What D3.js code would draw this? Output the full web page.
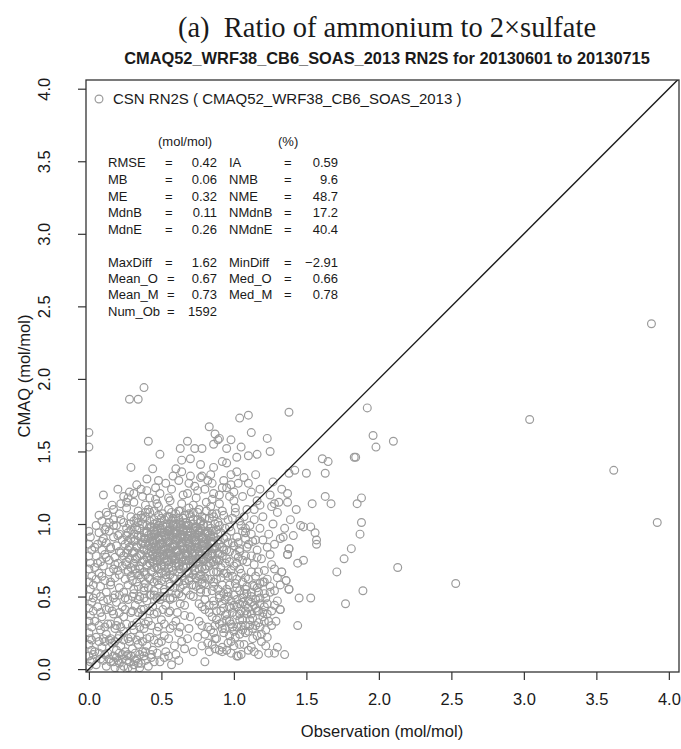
<!DOCTYPE html>
<html>
<head>
<meta charset="utf-8">
<script src="https://cdn.jsdelivr.net/npm/d3@7"></script>
<style>
  html, body { margin: 0; padding: 0; background: #fff; }
  svg { display: block; }
</style>
</head>
<body>
<div id="chart"></div>
<script>
var ticks = [0, 0.5, 1, 1.5, 2, 2.5, 3, 3.5, 4];

// points stacked on the y axis (obs ~ 0)
var edgeColumn = [[0.00,0.02],[0.01,0.05],[0.00,0.09],[0.02,0.13],[0.00,0.17],[0.01,0.21],[0.00,0.25],[0.02,0.29],
  [0.00,0.33],[0.01,0.37],[0.00,0.42],[0.02,0.46],[0.00,0.50],[0.01,0.55],[0.00,0.60],[0.02,0.64],[0.00,0.69],
  [0.01,0.73],[0.00,0.78],[0.02,0.82],[0.00,0.86],[0.01,0.91],[0.00,0.95],[0.00,1.53],[0.00,1.63]];

// low obs, low model
var lowerLeft = [[0.05,0.03],[0.08,0.07],[0.12,0.02],[0.15,0.05],[0.18,0.01],[0.19,0.08],[0.21,0.04],[0.23,0.10],
  [0.24,0.02],[0.26,0.06],[0.27,0.01],[0.29,0.09],[0.31,0.03],[0.33,0.07],[0.35,0.01],[0.36,0.04],[0.38,0.09],
  [0.45,0.05],[0.52,0.08],[0.57,0.03],[0.62,0.06],[0.41,0.02],[0.22,0.00],[0.30,0.00],
  [0.04,0.12],[0.09,0.15],[0.13,0.11],[0.16,0.18],[0.19,0.13],[0.22,0.16],[0.25,0.12],[0.28,0.19],[0.30,0.14],
  [0.34,0.17],[0.37,0.12],[0.40,0.16],[0.44,0.13],[0.48,0.18],[0.53,0.12],[0.59,0.16],[0.66,0.14],[0.11,0.19],[0.27,0.10],
  [0.05,0.22],[0.08,0.27],[0.12,0.24],[0.15,0.21],[0.18,0.28],[0.21,0.23],[0.24,0.26],[0.27,0.21],[0.31,0.27],
  [0.35,0.23],[0.38,0.28],[0.42,0.22],[0.47,0.26],[0.52,0.23],[0.56,0.28],[0.62,0.25],[0.68,0.21],
  [0.04,0.33],[0.09,0.36],[0.13,0.31],[0.17,0.38],[0.20,0.33],[0.24,0.36],[0.29,0.39],[0.33,0.32],[0.37,0.37],
  [0.41,0.33],[0.45,0.38],[0.50,0.34],[0.55,0.39],[0.60,0.33],[0.66,0.37],
  [0.06,0.43],[0.10,0.47],[0.14,0.42],[0.19,0.46],[0.23,0.43],[0.27,0.48],[0.32,0.44],[0.36,0.41],[0.40,0.47],
  [0.44,0.43],[0.49,0.48],[0.53,0.44],[0.58,0.49],[0.63,0.45]];

var lowerLeftFill = [[0.02,0.06],[0.10,0.06],[0.14,0.07],[0.17,0.05],[0.20,0.06],[0.23,0.07],[0.28,0.05],[0.32,0.06],
  [0.34,0.04],[0.39,0.06],[0.43,0.08],[0.49,0.05],
  [0.03,0.10],[0.07,0.11],[0.11,0.10],[0.17,0.09],[0.21,0.11],[0.26,0.09],[0.32,0.11],[0.35,0.10],[0.39,0.12],
  [0.43,0.10],[0.47,0.11],[0.55,0.09],[0.60,0.10],
  [0.02,0.20],[0.07,0.19],[0.10,0.21],[0.14,0.20],[0.18,0.19],[0.20,0.21],[0.24,0.20],[0.29,0.22],[0.33,0.20],
  [0.37,0.19],[0.40,0.21],[0.45,0.20],[0.50,0.19],[0.55,0.21],[0.64,0.19],
  [0.07,0.30],[0.11,0.29],[0.15,0.31],[0.19,0.30],[0.22,0.29],[0.26,0.31],[0.30,0.30],[0.35,0.29],[0.39,0.31],
  [0.43,0.30],[0.48,0.29],[0.52,0.31],[0.58,0.30],[0.63,0.29],
  [0.03,0.40],[0.08,0.39],[0.12,0.41],[0.16,0.40],[0.21,0.39],[0.25,0.41],[0.30,0.40],[0.34,0.39],[0.38,0.41],
  [0.42,0.40],[0.47,0.39],[0.51,0.41],[0.56,0.40],[0.61,0.39],
  [0.03,0.49],[0.08,0.50],[0.13,0.48],[0.17,0.49],[0.21,0.51],[0.25,0.49],[0.30,0.50],[0.34,0.48],[0.38,0.49],
  [0.43,0.51],[0.47,0.49],[0.51,0.50],[0.56,0.48]];

// under-predicted lobe below the 1:1 line
var lowerRight = [[0.72,0.12],[0.75,0.22],[0.78,0.30],[0.80,0.05],[0.80,0.41],[0.82,0.18],[0.84,0.27],[0.85,0.36],
  [0.86,0.47],[0.87,0.14],[0.88,0.21],[0.89,0.55],[0.90,0.31],[0.91,0.40],[0.92,0.12],[0.93,0.25],[0.94,0.48],
  [0.95,0.34],[0.96,0.18],[0.97,0.58],[0.98,0.42],[0.99,0.29],[1.00,0.51],[1.01,0.22],[1.02,0.37],[1.03,0.09],
  [1.04,0.45],[1.05,0.30],[1.06,0.60],[1.07,0.17],[1.08,0.40],[1.09,0.52],[1.10,0.26],[1.11,0.34],[1.12,0.46],
  [1.13,0.21],[1.14,0.57],[1.15,0.30],[1.16,0.40],[1.17,0.10],[1.18,0.49],[1.19,0.19],[1.20,0.36],[1.21,0.60],
  [1.22,0.27],[1.23,0.45],[1.24,0.33],[1.25,0.53],[1.26,0.72],[1.28,0.11],[1.30,0.15],[1.32,0.41],[1.33,0.67],
  [1.35,0.10],[1.36,0.61],[1.37,0.79],[1.38,0.55],[0.95,0.13],[0.90,0.13],[0.87,0.21],[0.98,0.19],[1.02,0.43],
  [1.06,0.34],[1.09,0.38],[1.13,0.35],[1.17,0.40],[1.17,0.67],[1.20,0.60],[1.21,0.52],[1.23,0.38],[1.23,0.22],
  [1.21,0.33],[1.05,0.10],[1.02,0.09],[0.83,0.44],[0.88,0.62],[0.93,0.66],[0.99,0.64],[1.05,0.66],[1.10,0.62],
  [1.12,0.53],[1.15,0.89],[1.20,0.89],[1.23,0.84],[0.62,0.52],[0.66,0.44],[0.70,0.36],[0.72,0.50],[0.74,0.57],
  [0.76,0.45],[0.78,0.62],[0.81,0.53],[0.69,0.28],[0.65,0.58],[1.44,0.30],[1.32,0.41],[1.45,0.49],[1.53,0.49],
  [1.38,0.55],[1.36,0.61],[1.33,0.67],[1.44,0.73],[1.48,0.75],[1.37,0.79],[1.38,0.83],[1.32,0.90],[1.34,0.91]];

var lowerRightFill = [[0.83,0.12],[0.98,0.11],[1.10,0.13],[1.14,0.12],[1.24,0.11],
  [0.78,0.16],[0.85,0.17],[0.92,0.15],[1.00,0.16],[1.04,0.17],[1.12,0.15],[1.22,0.16],
  [0.80,0.24],[0.86,0.25],[0.97,0.23],[1.04,0.24],[1.08,0.25],[1.16,0.23],[1.19,0.24],
  [0.82,0.29],[0.87,0.30],[0.94,0.28],[1.02,0.29],[1.08,0.30],[1.13,0.28],[1.18,0.29],[1.26,0.30],
  [0.76,0.33],[0.88,0.34],[0.92,0.32],[0.97,0.33],[1.04,0.34],[1.17,0.32],[1.29,0.33],
  [0.83,0.39],[0.88,0.40],[0.95,0.38],[0.99,0.39],[1.05,0.40],[1.12,0.38],[1.20,0.39],[1.26,0.40],
  [0.78,0.43],[0.86,0.44],[0.93,0.42],[0.97,0.43],[1.08,0.44],[1.15,0.42],[1.21,0.43],[1.28,0.44],
  [0.80,0.48],[0.90,0.49],[0.98,0.47],[1.02,0.48],[1.06,0.49],[1.10,0.47],[1.15,0.48],[1.22,0.49],[1.30,0.47],
  [0.77,0.53],[0.85,0.54],[0.93,0.52],[0.96,0.53],[1.04,0.54],[1.07,0.52],[1.17,0.53],[1.28,0.54],
  [0.72,0.58],[0.80,0.59],[0.86,0.57],[0.92,0.58],[1.01,0.59],[1.09,0.57],[1.13,0.58],[1.18,0.59],[1.25,0.57],[1.32,0.58],
  [0.70,0.63],[0.76,0.64],[0.84,0.62],[0.91,0.63],[0.96,0.64],[1.02,0.62],[1.08,0.63],[1.15,0.64],[1.23,0.62],[1.30,0.63],
  [0.73,0.68],[0.80,0.69],[0.89,0.67],[0.98,0.68],[1.04,0.69],[1.12,0.67],[1.21,0.68],[1.28,0.69],
  [1.02,0.73],[1.08,0.78],[1.14,0.72],[1.19,0.76],[1.25,0.79],[1.09,0.84],[1.16,0.82],[1.28,0.86],[1.12,0.93],
  [1.18,0.97],[1.24,0.93],[1.27,1.00],[1.14,1.03],[1.20,1.05],[1.30,1.08],[1.08,0.97],[1.26,1.12],[1.35,0.97],
  [1.41,0.92],[1.39,1.03],
  [0.92,0.45],[0.96,0.50],[1.00,0.44],[1.04,0.38],[0.94,0.37],[0.98,0.31],[1.06,0.46],[1.10,0.42],[1.14,0.44],
  [1.08,0.55],[1.02,0.56],[0.95,0.55],[0.90,0.51],[1.12,0.50],[1.18,0.45],[1.16,0.56],[1.06,0.27],[1.00,0.26],
  [1.11,0.30],[0.92,0.28]];

// dense core around obs 0.4-1.0, model 0.7-1.1
var core = [[0.05,0.52],[0.12,0.53],[0.18,0.51],[0.24,0.53],[0.31,0.52],[0.38,0.54],[0.45,0.51],[0.52,0.53],[0.60,0.52],
  [0.08,0.57],[0.15,0.58],[0.21,0.56],[0.27,0.58],[0.34,0.57],[0.41,0.56],[0.48,0.58],[0.56,0.57],[0.63,0.56],[0.71,0.58],
  [0.05,0.62],[0.11,0.61],[0.18,0.63],[0.25,0.62],[0.30,0.61],[0.36,0.63],[0.42,0.62],[0.47,0.61],[0.53,0.63],
  [0.59,0.62],[0.66,0.61],[0.74,0.63],[0.82,0.62],
  [0.07,0.66],[0.14,0.67],[0.21,0.65],[0.27,0.67],[0.33,0.66],[0.39,0.65],[0.44,0.67],[0.50,0.66],[0.56,0.65],
  [0.62,0.67],[0.69,0.66],[0.77,0.65],[0.86,0.67],[0.95,0.66],
  [0.04,0.70],[0.10,0.71],[0.17,0.69],[0.23,0.71],[0.29,0.70],[0.35,0.69],[0.40,0.71],[0.45,0.70],[0.50,0.72],
  [0.55,0.69],[0.60,0.71],[0.65,0.70],[0.70,0.72],[0.76,0.69],[0.83,0.71],[0.91,0.70],[1.00,0.71],
  [0.08,0.74],[0.14,0.75],[0.20,0.73],[0.26,0.74],[0.32,0.76],[0.37,0.74],[0.42,0.73],[0.47,0.75],[0.52,0.74],
  [0.57,0.76],[0.62,0.73],[0.67,0.75],[0.72,0.74],[0.78,0.76],[0.84,0.73],[0.90,0.75],[0.97,0.74],[1.06,0.75],
  [0.05,0.78],[0.11,0.79],[0.18,0.77],[0.24,0.78],[0.30,0.80],[0.35,0.78],[0.40,0.77],[0.44,0.79],[0.49,0.78],
  [0.54,0.80],[0.58,0.77],[0.63,0.79],[0.68,0.78],[0.73,0.80],[0.79,0.77],[0.85,0.79],[0.92,0.78],[1.01,0.79],[1.12,0.78],
  [0.09,0.82],[0.15,0.83],[0.21,0.81],[0.27,0.82],[0.33,0.84],[0.38,0.82],[0.43,0.81],[0.47,0.83],[0.52,0.82],
  [0.56,0.84],[0.61,0.81],[0.66,0.83],[0.70,0.82],[0.75,0.84],[0.81,0.81],[0.87,0.83],[0.95,0.82],[1.04,0.83],
  [0.06,0.86],[0.12,0.87],[0.19,0.85],[0.25,0.86],[0.31,0.88],[0.36,0.86],[0.41,0.85],[0.45,0.87],[0.50,0.86],
  [0.55,0.88],[0.59,0.85],[0.64,0.87],[0.69,0.86],[0.73,0.88],[0.78,0.85],[0.84,0.87],[0.90,0.86],[0.99,0.87],[1.10,0.86],
  [0.10,0.90],[0.17,0.91],[0.23,0.89],[0.29,0.90],[0.34,0.92],[0.39,0.90],[0.44,0.89],[0.48,0.91],[0.53,0.90],
  [0.57,0.92],[0.62,0.89],[0.66,0.91],[0.71,0.90],[0.76,0.92],[0.81,0.89],[0.86,0.91],[0.93,0.90],[1.02,0.91],
  [0.07,0.94],[0.14,0.95],[0.21,0.93],[0.27,0.94],[0.33,0.96],[0.38,0.94],[0.43,0.93],[0.47,0.95],[0.52,0.94],
  [0.56,0.96],[0.61,0.93],[0.65,0.95],[0.70,0.94],[0.75,0.96],[0.80,0.93],[0.85,0.95],[0.91,0.94],[0.98,0.95],[1.08,0.94],
  [0.12,0.98],[0.19,0.99],[0.26,0.97],[0.32,0.98],[0.37,1.00],[0.42,0.98],[0.47,0.97],[0.51,0.99],[0.56,0.98],
  [0.60,1.00],[0.65,0.97],[0.69,0.99],[0.74,0.98],[0.79,1.00],[0.84,0.97],[0.90,0.99],[0.97,0.98],[1.05,0.99],
  [0.09,1.02],[0.17,1.03],[0.24,1.01],[0.31,1.02],[0.37,1.04],[0.42,1.02],[0.47,1.01],[0.52,1.03],[0.57,1.02],
  [0.62,1.04],[0.67,1.01],[0.72,1.03],[0.77,1.02],[0.83,1.04],[0.89,1.01],[0.96,1.03],[1.04,1.02],
  [0.13,1.06],[0.21,1.07],[0.29,1.05],[0.36,1.06],[0.42,1.08],[0.48,1.06],[0.54,1.05],[0.60,1.07],[0.66,1.06],
  [0.72,1.08],[0.78,1.05],[0.85,1.07],[0.93,1.06],[1.01,1.08],
  [0.17,1.10],[0.26,1.11],[0.34,1.09],[0.41,1.10],[0.48,1.12],[0.55,1.10],[0.62,1.09],[0.69,1.11],[0.76,1.10],
  [0.84,1.12],[0.92,1.09],[1.01,1.11],[1.09,1.10],
  [0.22,1.14],[0.31,1.15],[0.39,1.13],[0.47,1.14],[0.56,1.16],[0.64,1.14],[0.72,1.13],[0.81,1.15],[0.90,1.14],[1.00,1.16],
  [0.27,1.18],[0.37,1.19],[0.46,1.17],[0.55,1.18],[0.65,1.20],[0.74,1.18],[0.85,1.17],[0.97,1.19]];

// extra overlap in the darkest part of the core
var coreCentre = [[0.46,0.77],[0.52,0.76],[0.58,0.78],[0.64,0.77],[0.70,0.76],[0.76,0.78],[0.82,0.77],[0.88,0.76],
  [0.49,0.81],[0.55,0.80],[0.61,0.82],[0.67,0.80],[0.73,0.81],[0.79,0.83],[0.85,0.80],
  [0.46,0.85],[0.52,0.84],[0.58,0.86],[0.64,0.85],[0.70,0.84],[0.76,0.86],[0.82,0.85],[0.88,0.84],
  [0.49,0.89],[0.55,0.88],[0.61,0.90],[0.67,0.88],[0.73,0.89],[0.79,0.91],[0.85,0.88],
  [0.46,0.93],[0.52,0.92],[0.58,0.94],[0.64,0.93],[0.70,0.92],[0.76,0.94],[0.82,0.93],
  [0.49,0.97],[0.55,0.96],[0.61,0.98],[0.67,0.96],[0.73,0.97],[0.79,0.99],[0.63,1.00],[0.70,1.02],[0.58,1.04],
  [0.47,0.70],[0.52,0.71],[0.57,0.70],[0.62,0.71],[0.67,0.70],[0.72,0.71],[0.78,0.70],
  [0.44,0.74],[0.49,0.75],[0.54,0.74],[0.59,0.75],[0.64,0.74],[0.69,0.75],[0.74,0.74],[0.79,0.75],[0.86,0.74],
  [0.42,0.78],[0.47,0.79],[0.52,0.78],[0.57,0.79],[0.62,0.78],[0.67,0.79],[0.72,0.78],[0.78,0.79],[0.84,0.78],[0.90,0.79],
  [0.40,0.82],[0.45,0.83],[0.50,0.82],[0.55,0.83],[0.60,0.82],[0.65,0.83],[0.70,0.82],[0.75,0.83],[0.80,0.82],
  [0.86,0.83],[0.93,0.82],
  [0.39,0.86],[0.44,0.87],[0.49,0.86],[0.54,0.87],[0.59,0.86],[0.64,0.87],[0.69,0.86],[0.74,0.87],[0.80,0.86],[0.86,0.87],
  [0.38,0.90],[0.43,0.91],[0.48,0.90],[0.53,0.91],[0.58,0.90],[0.63,0.91],[0.68,0.90],[0.73,0.91],[0.78,0.90],[0.84,0.91],
  [0.40,0.94],[0.45,0.95],[0.50,0.94],[0.55,0.95],[0.60,0.94],[0.65,0.95],[0.70,0.94],[0.76,0.95],[0.82,0.94],
  [0.43,0.98],[0.48,0.99],[0.53,0.98],[0.58,0.99],[0.63,0.98],[0.68,0.99],[0.74,0.98]];

var coreFill = [[0.27,0.68],[0.32,0.69],[0.38,0.67],[0.43,0.68],[0.48,0.69],[0.53,0.67],[0.58,0.68],[0.63,0.69],
  [0.68,0.67],[0.73,0.68],[0.80,0.69],[0.88,0.67],
  [0.26,0.72],[0.31,0.73],[0.35,0.71],[0.40,0.72],[0.45,0.73],[0.50,0.71],[0.55,0.72],[0.60,0.73],[0.65,0.71],
  [0.70,0.72],[0.75,0.73],[0.81,0.71],[0.87,0.72],[0.94,0.73],
  [0.28,0.76],[0.33,0.77],[0.38,0.75],[0.43,0.76],[0.49,0.77],[0.54,0.75],[0.60,0.76],[0.65,0.77],[0.71,0.75],
  [0.76,0.76],[0.82,0.77],[0.88,0.75],[0.95,0.76],[1.03,0.77],
  [0.26,0.80],[0.31,0.81],[0.36,0.79],[0.41,0.80],[0.46,0.81],[0.51,0.79],[0.56,0.80],[0.61,0.81],[0.66,0.79],
  [0.71,0.80],[0.76,0.81],[0.82,0.79],[0.89,0.80],[0.97,0.81],
  [0.28,0.84],[0.33,0.85],[0.38,0.83],[0.43,0.84],[0.48,0.85],[0.53,0.83],[0.58,0.84],[0.63,0.85],[0.68,0.83],
  [0.73,0.84],[0.79,0.85],[0.85,0.83],[0.92,0.84],[1.00,0.85],
  [0.27,0.88],[0.32,0.89],[0.37,0.87],[0.42,0.88],[0.46,0.89],[0.51,0.87],[0.55,0.88],[0.60,0.89],[0.65,0.87],
  [0.69,0.88],[0.74,0.89],[0.79,0.87],[0.84,0.88],[0.89,0.89],[0.96,0.87],
  [0.26,0.92],[0.31,0.93],[0.36,0.91],[0.41,0.92],[0.45,0.93],[0.50,0.91],[0.55,0.92],[0.59,0.93],[0.64,0.91],
  [0.68,0.92],[0.73,0.93],[0.78,0.91],[0.83,0.92],[0.89,0.93],[0.95,0.91],
  [0.29,0.96],[0.35,0.97],[0.40,0.95],[0.45,0.96],[0.50,0.97],[0.54,0.95],[0.59,0.96],[0.63,0.97],[0.68,0.95],
  [0.72,0.96],[0.77,0.97],[0.82,0.95],[0.88,0.96],[0.94,0.97],
  [0.28,1.00],[0.34,1.01],[0.40,0.99],[0.45,1.00],[0.49,1.01],[0.54,0.99],[0.58,1.00],[0.63,1.01],[0.67,0.99],
  [0.72,1.00],[0.77,1.01],[0.82,0.99],[0.87,1.00],
  [0.33,1.04],[0.39,1.05],[0.45,1.03],[0.50,1.04],[0.55,1.05],[0.60,1.03],[0.65,1.04],[0.70,1.05],[0.75,1.03],
  [0.80,1.04],[0.86,1.05],
  [0.39,1.08],[0.45,1.09],[0.51,1.07],[0.57,1.08],[0.63,1.09],[0.69,1.07],[0.75,1.08],[0.81,1.09],[0.88,1.07],
  [0.35,0.50],[0.42,0.51],[0.49,0.50],[0.56,0.49],[0.64,0.50],[0.70,0.51],
  [0.31,0.55],[0.38,0.56],[0.45,0.54],[0.52,0.55],[0.59,0.56],[0.67,0.54],[0.77,0.55],
  [0.33,0.60],[0.39,0.59],[0.45,0.60],[0.50,0.61],[0.56,0.59],[0.62,0.60],[0.69,0.61],[0.78,0.59],[0.86,0.60],
  [0.29,0.64],[0.35,0.65],[0.41,0.63],[0.47,0.64],[0.53,0.65],[0.58,0.63],[0.64,0.64],[0.72,0.65],[0.80,0.63],
  [0.03,0.58],[0.09,0.64],[0.15,0.60],[0.20,0.68],[0.06,0.73],[0.12,0.77],[0.18,0.72],[0.22,0.80],[0.04,0.84],
  [0.09,0.88],[0.15,0.84],[0.20,0.92],[0.05,0.99],[0.11,0.96],[0.17,0.99],[0.22,1.03],[0.07,1.06],[0.14,1.01],
  [1.03,0.87],[1.08,0.90],[1.13,0.88],[1.06,0.95],[1.11,0.99],[0.99,1.04],[1.07,1.05],[1.14,1.10],[1.18,1.13],
  [1.04,0.81],[1.09,0.74],[1.16,0.77]];

// model > 1.2
var upper = [[0.38,1.94],[0.28,1.86],[0.34,1.86],[0.41,1.57],[0.49,1.48],[0.29,1.39],[0.44,1.38],[1.38,1.77],
  [1.92,1.80],[1.96,1.61],[1.98,1.53],[1.04,1.73],[1.10,1.75],[0.83,1.67],[0.87,1.62],[0.90,1.59],[0.89,1.58],
  [0.86,1.55],[0.68,1.57],[0.63,1.52],[0.73,1.52],[0.78,1.52],[0.95,1.52],[0.98,1.58],[1.05,1.53],[1.12,1.63],
  [1.23,1.59],[1.25,1.50],[1.16,1.48],[1.10,1.47],[1.02,1.46],[0.64,1.44],[0.70,1.45],[0.77,1.41],[0.92,1.43],
  [0.95,1.42],[0.86,1.39],[0.60,1.38],[0.64,1.36],[0.70,1.33],[0.78,1.33],[0.84,1.34],[1.15,1.34],[1.02,1.36],
  [0.98,1.34],[0.28,1.22],[0.31,1.21],[0.36,1.24],[0.26,1.15],[0.16,1.13],[0.53,1.28],[0.49,1.21],[0.42,1.18],
  [1.61,1.45],[1.65,1.43],[1.50,1.35],[1.42,1.37],[1.38,1.35],[1.63,1.35],[1.27,1.29],[1.18,1.24],[1.25,1.20],
  [1.33,1.24],[1.37,1.21],[1.31,1.15],[1.37,1.15],[1.54,1.14],[1.63,1.19],[1.67,1.14],[1.28,1.14],[1.16,1.16],
  [1.10,1.28],[1.03,1.28],[0.98,1.27],[0.95,1.25],[0.92,1.25],[0.85,1.28],[0.86,1.21],[0.75,1.23],[0.69,1.28],
  [0.77,1.32],[0.12,1.08],[0.20,1.24],[0.10,1.20],[1.83,1.46],[1.84,1.46],[1.88,1.18],[1.85,1.14],[1.43,1.10],
  [1.46,0.99],[1.48,0.98],[1.53,0.98],[1.56,0.94],[1.57,0.89],[1.57,0.86],[1.38,0.83],
  [0.33,1.27],[0.40,1.31],[0.46,1.25],[0.57,1.24],[0.62,1.30],[0.68,1.21],[0.73,1.26],[0.80,1.24],[0.82,1.30],
  [0.90,1.20],[1.00,1.22],[1.06,1.19],[1.12,1.22],[0.58,1.33],[0.48,1.30],[0.24,1.19],[0.40,1.23],[0.93,1.30],[1.07,1.32]];

// high-obs tail
var rightTail = [[2.10,1.57],[1.88,1.01],[1.87,0.93],[1.81,0.83],[1.76,0.76],[1.71,0.67],[1.89,0.54],[1.77,0.45],
  [2.13,0.70],[2.53,0.59],[3.04,1.72],[3.62,1.37],[3.88,2.38],[3.92,1.01]];

var series = [].concat(edgeColumn, lowerLeft, lowerLeftFill, lowerRight, lowerRightFill, core, coreCentre, coreFill, upper, rightTail);

var statsLeft = [["RMSE", "0.42"], ["MB", "0.06"], ["ME", "0.32"], ["MdnB", "0.11"], ["MdnE", "0.26"],
  ["MaxDiff", "1.62"], ["Mean_O", "0.67"], ["Mean_M", "0.73"], ["Num_Ob", "1592"]];
var statsRight = [["IA", "0.59"], ["NMB", "9.6"], ["NME", "48.7"], ["NMdnB", "17.2"], ["NMdnE", "40.4"],
  ["MinDiff", "\u22122.91"], ["Med_O", "0.66"], ["Med_M", "0.78"], null];
var rowY = [167, 184, 201, 217, 234, 267, 283, 299, 316];

var W = 681, H = 749;
var SANS = "'Liberation Sans', Arial, Helvetica, sans-serif";
var PT = "#9b9b9b", INK = "#1a1a1a";

var svg = d3.select("#chart").append("svg").attr("width", W).attr("height", H);
svg.append("rect").attr("width", W).attr("height", H).attr("fill", "#fff");

var x = d3.scaleLinear().domain([-0.02, 4.07]).range([86, 679]);
var y = d3.scaleLinear().domain([-0.02, 4.06]).range([672, 80]);

// titles
svg.append("text").attr("x", 387).attr("y", 37).attr("text-anchor", "middle")
  .attr("font-family", "'Liberation Serif', 'Times New Roman', serif").attr("font-size", 28.5).attr("fill", INK)
  .style("white-space", "pre").text("(a)  Ratio of ammonium to 2\u00d7sulfate");
svg.append("text").attr("x", 387).attr("y", 64).attr("text-anchor", "middle")
  .attr("font-family", SANS).attr("font-size", 16.4).attr("font-weight", "bold").attr("fill", INK)
  .text("CMAQ52_WRF38_CB6_SOAS_2013 RN2S for 20130601 to 20130715");

svg.append("clipPath").attr("id", "plotclip").append("rect")
  .attr("x", 86).attr("y", 80).attr("width", 593).attr("height", 592);

// points
svg.append("g").attr("clip-path", "url(#plotclip)").selectAll("circle").data(series).join("circle")
  .attr("cx", function (d) { return x(d[0]); }).attr("cy", function (d) { return y(d[1]); })
  .attr("r", 3.9).attr("fill", "none").attr("stroke", PT).attr("stroke-width", 1.2);

// 1:1 line
svg.append("line").attr("clip-path", "url(#plotclip)")
  .attr("x1", x(-0.02)).attr("y1", y(-0.02)).attr("x2", x(4.07)).attr("y2", y(4.07))
  .attr("stroke", INK).attr("stroke-width", 1.4);

// box
svg.append("rect").attr("x", 86).attr("y", 80).attr("width", 593).attr("height", 592)
  .attr("fill", "none").attr("stroke", "#333").attr("stroke-width", 1.3);

// axes
var fmt = d3.format(".1f");
var gx = svg.append("g").attr("transform", "translate(0,672)")
  .call(d3.axisBottom(x).tickValues(ticks).tickFormat(fmt).tickSize(8).tickSizeOuter(0));
gx.select(".domain").remove();
gx.selectAll("line").attr("stroke", "#333").attr("stroke-width", 1.2);
gx.selectAll("text").attr("y", 21).attr("font-family", SANS).attr("font-size", 16.5).attr("fill", INK);

var gy = svg.append("g").attr("transform", "translate(86,0)")
  .call(d3.axisLeft(y).tickValues(ticks).tickFormat(fmt).tickSize(8).tickSizeOuter(0));
gy.select(".domain").remove();
gy.selectAll("line").attr("stroke", "#333").attr("stroke-width", 1.2);
gy.selectAll("text").attr("x", null).attr("dy", null).attr("text-anchor", "middle")
  .attr("transform", "translate(-36,0) rotate(-90)")
  .attr("font-family", SANS).attr("font-size", 16.5).attr("fill", INK);

svg.append("text").attr("x", 382).attr("y", 737).attr("text-anchor", "middle")
  .attr("font-family", SANS).attr("font-size", 16.5).attr("fill", INK).text("Observation (mol/mol)");
svg.append("text").attr("transform", "translate(30,376) rotate(-90)").attr("text-anchor", "middle")
  .attr("font-family", SANS).attr("font-size", 16.5).attr("fill", INK).text("CMAQ (mol/mol)");

// legend
svg.append("circle").attr("cx", 99).attr("cy", 99).attr("r", 3.9).attr("fill", "none")
  .attr("stroke", PT).attr("stroke-width", 1.2);
svg.append("text").attr("x", 113).attr("y", 104).attr("font-family", SANS).attr("font-size", 15).attr("fill", INK)
  .text("CSN RN2S ( CMAQ52_WRF38_CB6_SOAS_2013 )");

// stats table
var st = svg.append("g").attr("font-family", SANS).attr("font-size", 13).attr("fill", INK);
st.append("text").attr("x", 158).attr("y", 146).text("(mol/mol)");
st.append("text").attr("x", 278).attr("y", 146).text("(%)");
statsLeft.forEach(function (r, i) {
  st.append("text").attr("x", 108).attr("y", rowY[i]).text(r[0]);
  st.append("text").attr("x", i >= 6 ? 167 : 165).attr("y", rowY[i]).text("=");
  st.append("text").attr("x", 217).attr("y", rowY[i]).attr("text-anchor", "end").text(r[1]);
});
statsRight.forEach(function (r, i) {
  if (!r) { return; }
  st.append("text").attr("x", 229).attr("y", rowY[i]).text(r[0]);
  st.append("text").attr("x", 284).attr("y", rowY[i]).text("=");
  st.append("text").attr("x", 338).attr("y", rowY[i]).attr("text-anchor", "end").text(r[1]);
});
</script>
</body>
</html>
